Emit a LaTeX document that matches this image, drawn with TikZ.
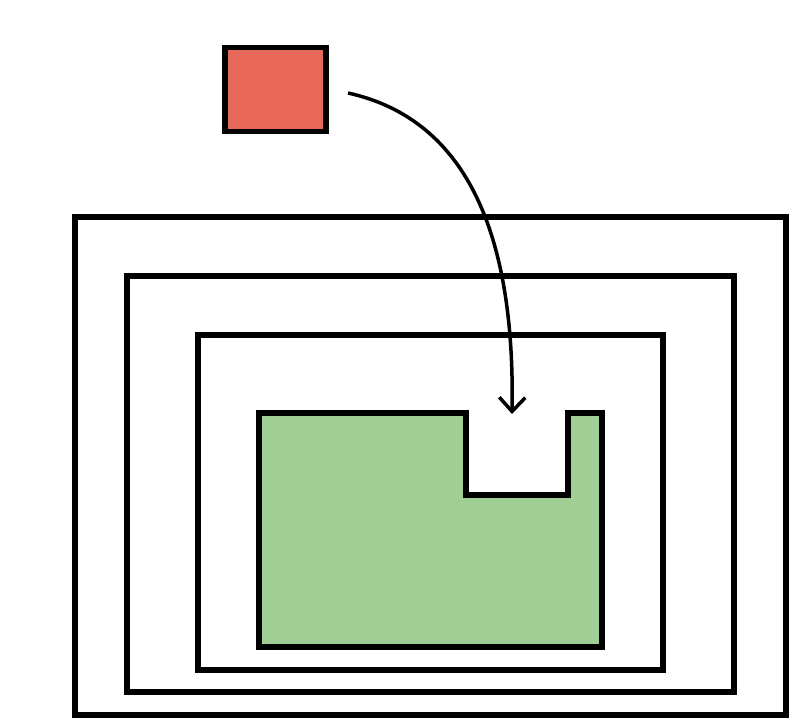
\documentclass[tikz,border=0pt]{standalone}
\usetikzlibrary{arrows.meta}
\definecolor{boxred}{HTML}{E8695A}
\definecolor{boxgreen}{HTML}{A1CE94}
\begin{document}
\begin{tikzpicture}[x=1pt,y=-1pt,
  frame/.style={draw=black,line width=5.5pt,line join=miter},
  conn/.style={draw=black,line width=3.5pt,-{Straight Barb[length=14pt,width=26pt,line width=3.5pt]}}]
\useasboundingbox (0,0) rectangle (810,727);
\draw[frame] (75,217) rectangle (786,715);
\draw[frame] (127,276) rectangle (734,692);
\draw[frame] (198,335) rectangle (663,670);
\draw[frame,fill=boxgreen] (259,413) -- (466,413) -- (466,495) -- (568,495) -- (568,413) -- (602,413) -- (602,647) -- (259,647) -- cycle;
\node[frame,fill=boxred,minimum width=101pt,minimum height=84pt,inner sep=0pt,anchor=north west] (src) at (222,45) {};
\coordinate (start) at (348,93);
\coordinate (tgt) at (512,414);
\draw[conn] (start) .. controls (470,120) and (515,240) .. (tgt);
\end{tikzpicture}
\end{document}
